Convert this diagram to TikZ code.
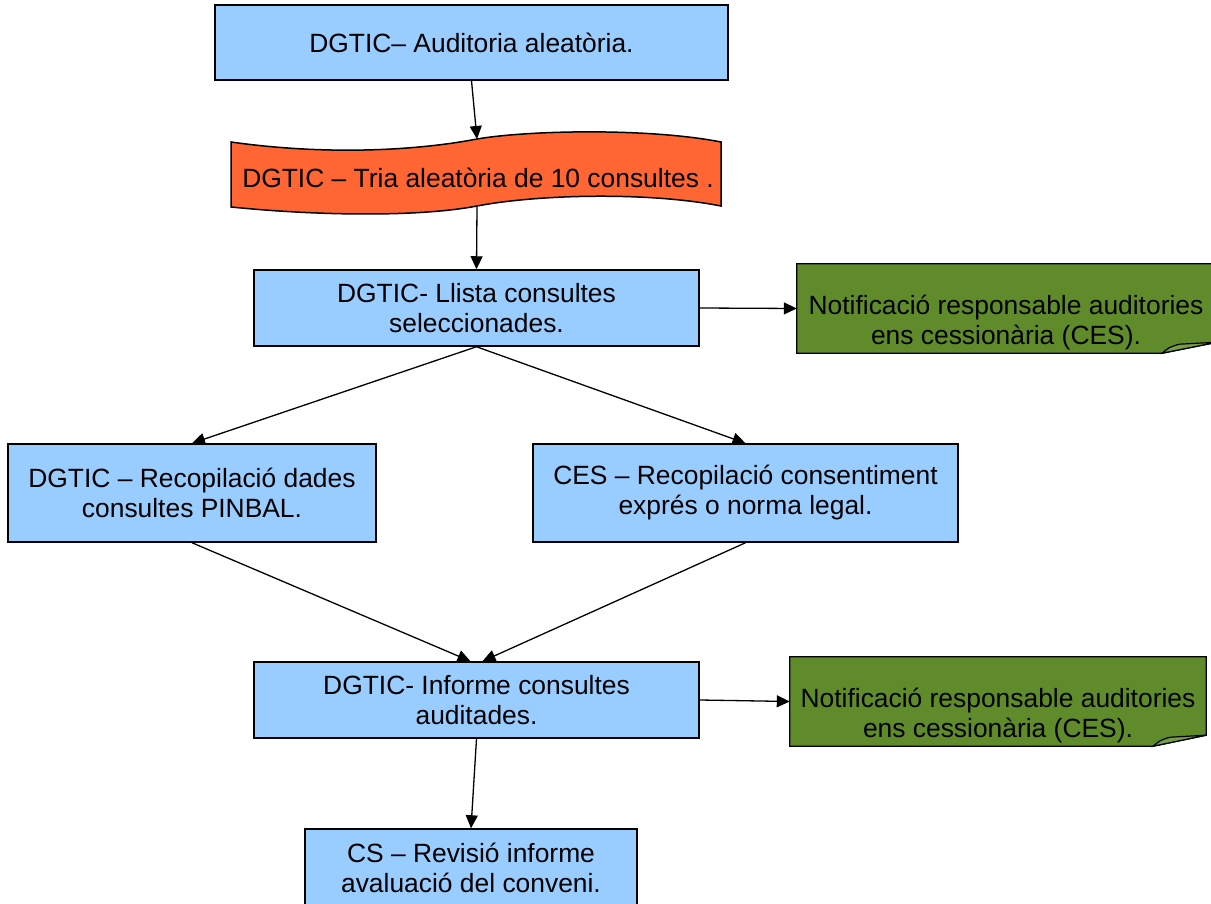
\documentclass[tikz,border=0pt]{standalone}
\usepackage{fontspec}
\setmainfont{Liberation Sans}
\usetikzlibrary{arrows.meta,calc,backgrounds}
\definecolor{boxblue}{HTML}{99CCFF}
\definecolor{tape}{HTML}{FF6633}
\definecolor{notegreen}{HTML}{5F8B2A}
\begin{document}
\begin{tikzpicture}[x=1pt,y=-1pt,
  font=\fontsize{26.4}{30}\selectfont,
  box/.style={draw=black, line width=1.5pt, fill=boxblue, align=center, inner sep=0pt},
  lbl/.style={align=center, inner sep=0pt},
  shapeline/.style={draw=black, line width=1.5pt},
  arr/.style={-{Triangle[length=13pt,width=12pt]}, line width=1.3pt}]
\useasboundingbox (0,0) rectangle (1211,904);
\clip (0,0) rectangle (1211,904);

% blue boxes
\node[box, minimum width=513pt, minimum height=75pt] (b1) at (471.5,42.5) {DGTIC– Auditoria aleatòria.};
\node[box, minimum width=445pt, minimum height=76pt] (b3) at (476.5,308) {DGTIC- Llista consultes\\seleccionades.};
\node[box, minimum width=368pt, minimum height=98pt] (b5) at (192,493) {DGTIC – Recopilació dades\\consultes PINBAL.};
\node[box, minimum width=425pt, minimum height=98pt] (b6) at (745.5,493) {CES – Recopilació consentiment\\exprés o norma legal.};
\node[box, minimum width=445pt, minimum height=76pt] (b7) at (476.5,700) {DGTIC- Informe consultes\\auditades.};
\node[box, minimum width=332pt, minimum height=78pt] (b9) at (471,868) {CS – Revisió informe\\avaluació del conveni.};

% orange punched tape
\draw[shapeline, fill=tape] (231,142) .. controls (330,156) and (420,150) .. (477,139)
  .. controls (530,130) and (650,128) .. (721,142) -- (721,206)
  .. controls (650,192) and (540,194) .. (477,206)
  .. controls (420,217) and (320,216) .. (231,207) -- cycle;
\node[lbl] (o) at (478,178) {DGTIC – Tria aleatòria de 10 consultes .};
\coordinate (otop) at (477,139);
\coordinate (obot) at (477,207);

% green notes
\node[lbl, minimum width=420pt, minimum height=89pt] (g1) at (1007,308.5) {};
\node[lbl] (g1t) at (1006,323) {Notificació responsable auditories\\ens cessionària (CES).};
\node[lbl, minimum width=416pt, minimum height=89pt] (g2) at (998,701.5) {};
\node[lbl] (g2t) at (998,716) {Notificació responsable auditories\\ens cessionària (CES).};
\begin{pgfonlayer}{background}
\foreach \g/\cut in {g1/55,g2/53}{
  \draw[shapeline, line width=1.3pt, fill=notegreen] (\g.north west) -- (\g.north east)
    -- ($(\g.south east)+(0,-11)$) -- ($(\g.south east)+(-\cut,0)$) -- (\g.south west) -- cycle;
  \draw[line width=1.2pt, fill=notegreen!85!white] ($(\g.south east)+(-\cut,0)$)
    .. controls ($(\g.south east)+(-\cut+7,-6)$) .. ($(\g.south east)+(-\cut+17,-9)$)
    -- ($(\g.south east)+(0,-11)$) -- cycle;
}
\end{pgfonlayer}

% connectors
\draw[arr] (b1.south) -- (otop);
\draw[arr] (obot) -- (b3.north);
\draw[arr] (b3.east) -- (g1.west);
\draw[arr] (b3.south) -- (b5.north);
\draw[arr] (b3.south) -- (b6.north);
\draw[arr] (b5.south) -- ([xshift=-6pt]b7.north);
\draw[arr] (b6.south) -- ([xshift=6pt]b7.north);
\draw[arr] (b7.east) -- (g2.west);
\draw[arr] (b7.south) -- (b9.north);
\end{tikzpicture}
\end{document}
